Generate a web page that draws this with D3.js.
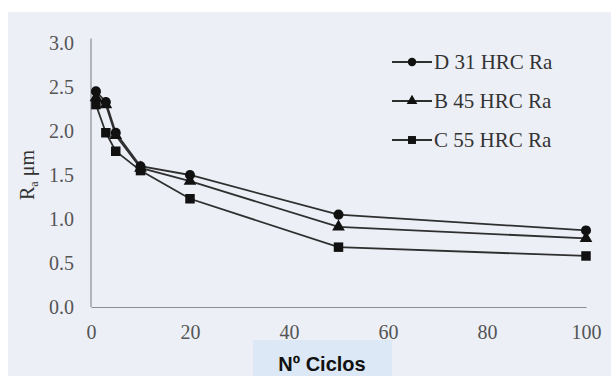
<!DOCTYPE html>
<html>
<head>
<meta charset="utf-8">
<script src="https://cdn.jsdelivr.net/npm/d3@7"></script>
<style>
  body { margin: 0; background: #fff; }
  svg { display: block; }
</style>
</head>
<body>
<div id="chart"></div>
<script>
const cycles = [1, 3, 5, 10, 20, 50, 100];
const seriesD = [2.45, 2.33, 1.98, 1.6, 1.5, 1.05, 0.87];
const seriesB = [2.38, 2.3, 1.95, 1.58, 1.43, 0.91, 0.78];
const seriesC = [2.3, 1.98, 1.77, 1.55, 1.23, 0.68, 0.58];
const seriesNames = ["D 31 HRC Ra", "B 45 HRC Ra", "C 55 HRC Ra"];
const xTicks = [0, 20, 40, 60, 80, 100];
const yTicks = [0, 0.5, 1.0, 1.5, 2.0, 2.5, 3.0];

const width = 611, height = 376;
const svg = d3.select("#chart").append("svg")
    .attr("width", width)
    .attr("height", height);

// panel background (white strip at top and left like the scan)
svg.append("rect")
    .attr("x", 8).attr("y", 12)
    .attr("width", width - 8).attr("height", height - 12)
    .attr("fill", "#eceff6");

const x = d3.scaleLinear().domain([0, 100]).range([91, 586]);
const y = d3.scaleLinear().domain([0, 3]).range([307, 43]);

const serif = "'Liberation Serif', 'DejaVu Serif', serif";

// axes
const xAxis = svg.append("g")
    .attr("transform", `translate(0,${y(0)})`)
    .call(d3.axisBottom(x).tickValues(xTicks).tickSize(0).tickPadding(18));
const yAxis = svg.append("g")
    .attr("transform", `translate(${x(0)},0)`)
    .call(d3.axisLeft(y).tickValues(yTicks).tickSize(0).tickPadding(17)
        .tickFormat(d3.format(".1f")));

[xAxis, yAxis].forEach(g => {
    g.select(".domain").attr("stroke", "#8a8d94").attr("stroke-width", 1.2);
    g.selectAll("text")
        .attr("fill", "#555")
        .style("font-family", serif)
        .style("font-size", "20px");
});
yAxis.select(".domain").attr("d", `M0,${y(3.05)}V${y(0)}`);

// y axis title
const yTitle = svg.append("text")
    .attr("transform", `translate(34,${(y(0) + y(3)) / 2}) rotate(-90)`)
    .attr("text-anchor", "middle")
    .attr("fill", "#333")
    .style("font-family", serif)
    .style("font-size", "20px");
yTitle.append("tspan").text("R");
yTitle.append("tspan").attr("dy", 4).style("font-size", "12px").text("a");
yTitle.append("tspan").attr("dy", -4).text(" μm");

// series
const series = [
    { name: seriesNames[0], values: seriesD, symbol: d3.symbolCircle, size: 80 },
    { name: seriesNames[1], values: seriesB, symbol: d3.symbolTriangle, size: 70 },
    { name: seriesNames[2], values: seriesC, symbol: d3.symbolSquare, size: 90 }
];

const line = d3.line()
    .x((d, i) => x(cycles[i]))
    .y(d => y(d));

series.forEach(s => {
    svg.append("path")
        .datum(s.values)
        .attr("fill", "none")
        .attr("stroke", "#2f2f2f")
        .attr("stroke-width", 1.8)
        .attr("d", line);
});

series.forEach(s => {
    svg.append("g").selectAll("path")
        .data(s.values)
        .enter()
        .append("path")
        .attr("transform", (d, i) => `translate(${x(cycles[i])},${y(d)})`)
        .attr("d", d3.symbol().type(s.symbol).size(s.size))
        .attr("fill", "#111");
});

// legend
const legend = svg.append("g");
series.forEach((s, i) => {
    const ly = 62 + i * 39;
    legend.append("line")
        .attr("x1", 392).attr("x2", 432)
        .attr("y1", ly).attr("y2", ly)
        .attr("stroke", "#2f2f2f").attr("stroke-width", 1.8);
    legend.append("path")
        .attr("transform", `translate(412,${ly})`)
        .attr("d", d3.symbol().type(s.symbol).size(s.size * 0.7))
        .attr("fill", "#111");
    legend.append("text")
        .attr("x", 434).attr("y", ly + 7)
        .attr("fill", "#333")
        .style("font-family", serif)
        .style("font-size", "21px")
        .text(s.name);
});

// x axis title box
svg.append("rect")
    .attr("x", 253).attr("y", 340)
    .attr("width", 139).attr("height", 36)
    .attr("fill", "#dce8f5");
svg.append("text")
    .attr("x", 322).attr("y", 371)
    .attr("text-anchor", "middle")
    .attr("fill", "#111")
    .style("font-family", "'Liberation Sans', Arial, sans-serif")
    .style("font-weight", "bold")
    .style("font-size", "20px")
    .text("Nº Ciclos");
</script>
</body>
</html>
